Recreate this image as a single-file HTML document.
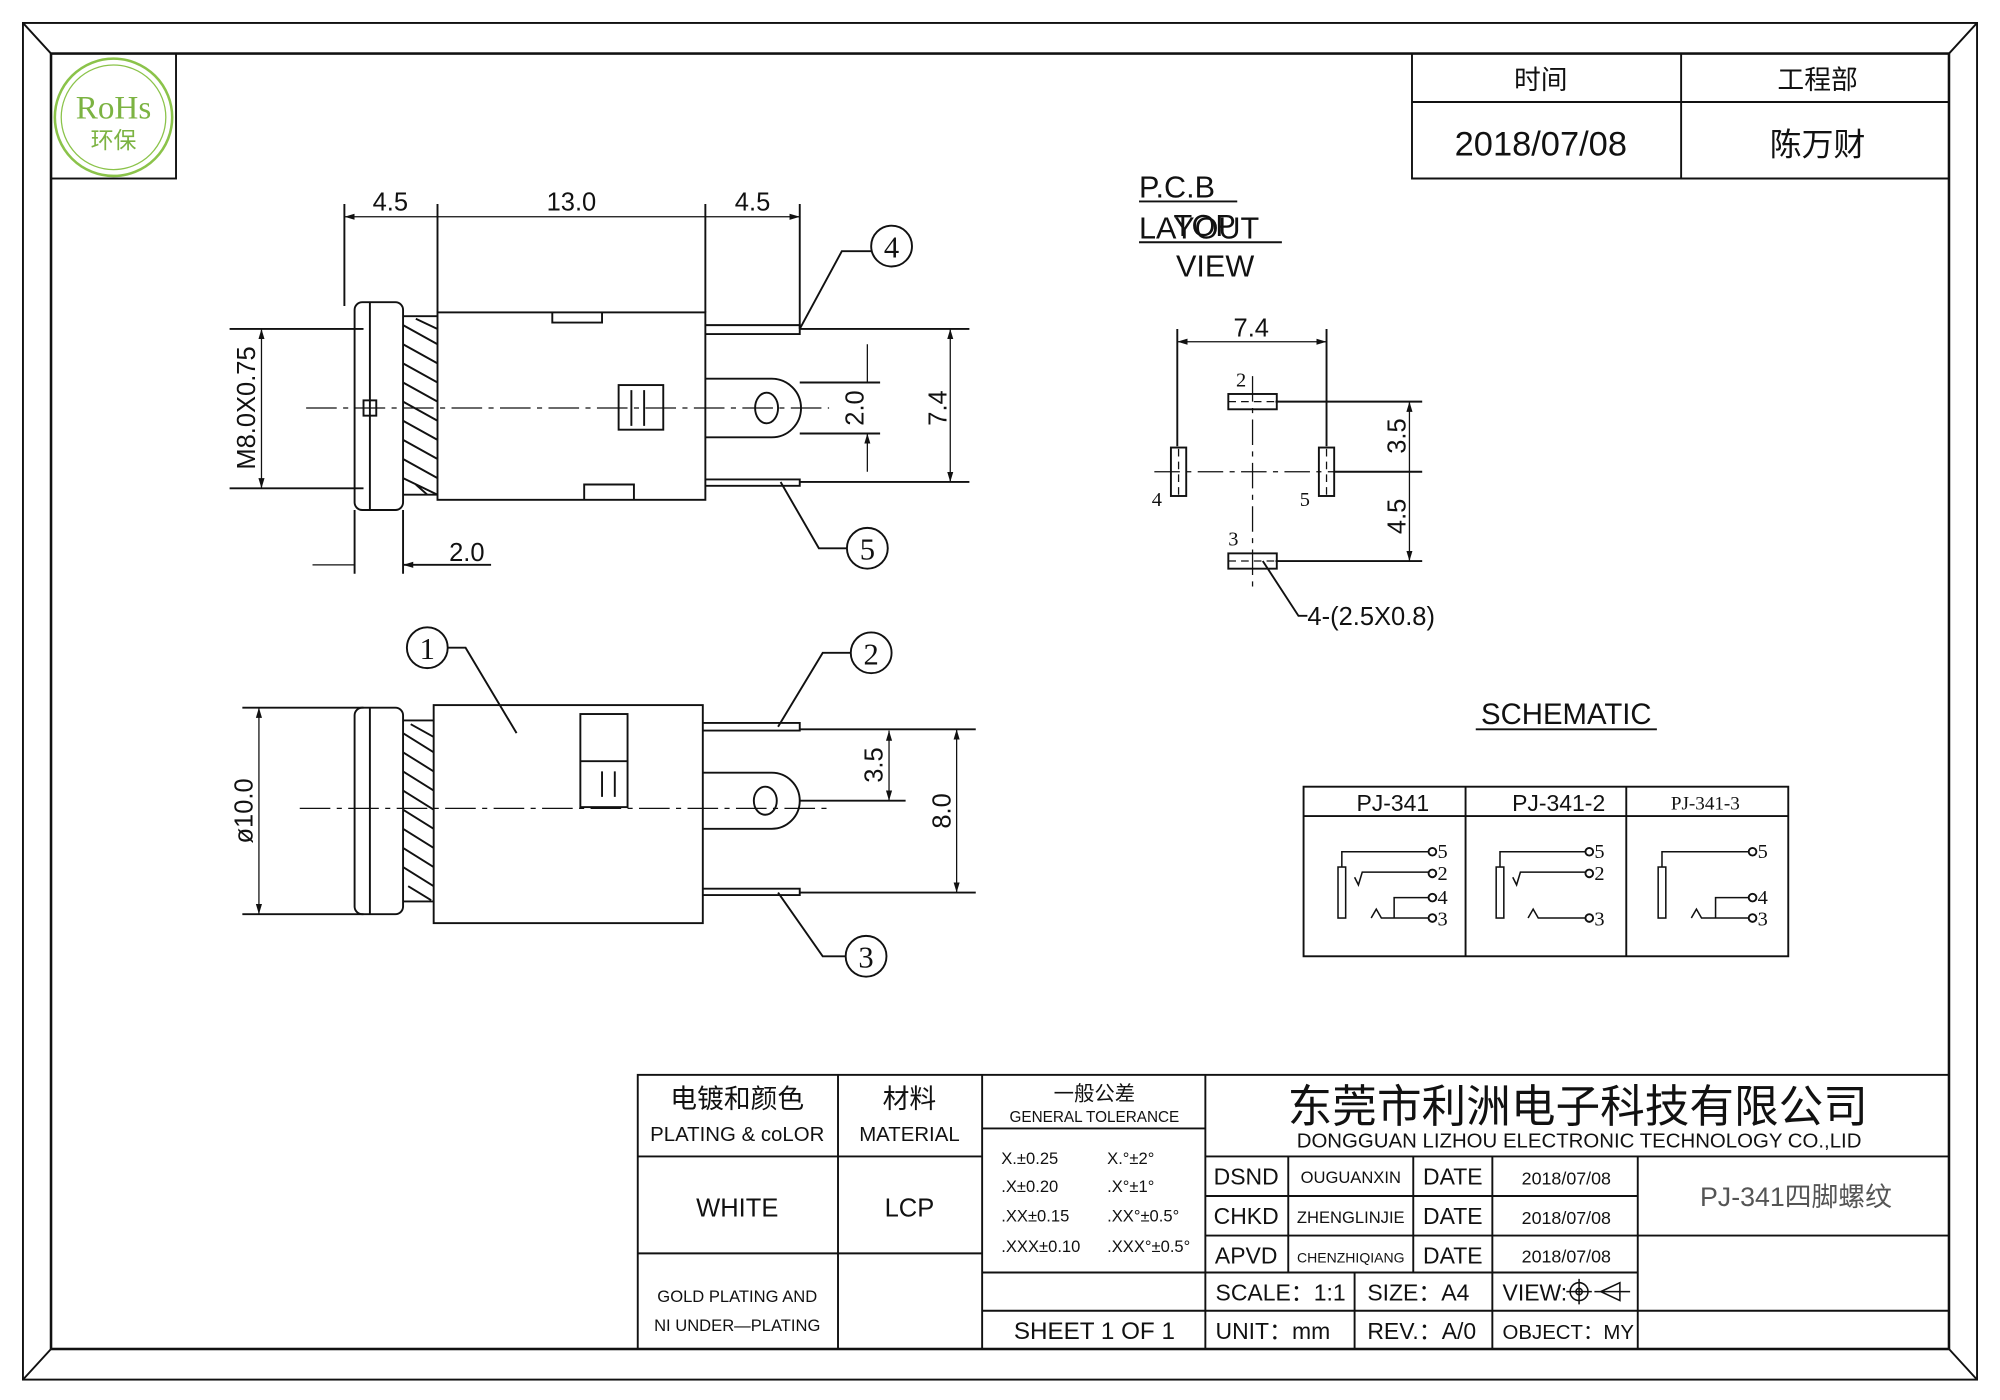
<!DOCTYPE html>
<html><head><meta charset="utf-8"><style>
html,body{margin:0;padding:0;background:#fff}
svg{display:block}
text{font-family:"Liberation Sans","Noto Sans CJK SC",sans-serif;fill:#111}
.s{font-family:"Liberation Serif","Noto Serif CJK SC",serif}
</style></head><body>
<svg width="2000" height="1400" viewBox="0 0 1568 1098" preserveAspectRatio="none" xmlns="http://www.w3.org/2000/svg">
<defs>
<marker id="a" viewBox="0 0 10 10" refX="10" refY="5" markerWidth="8" markerHeight="8" orient="auto-start-reverse"><path d="M0,2 L10,5 L0,8z" fill="#111"/></marker>
</defs>
<g fill="none" stroke="#111" stroke-width="1.5">
<!-- frame -->
<rect x="18" y="18" width="1532" height="1064"/>
<rect x="40" y="42" width="1488" height="1016" stroke-width="2"/>
<path d="M18 18L40 42M1550 18L1528 42M18 1082L40 1058M1550 1082L1528 1058"/>
<rect x="40" y="42" width="98" height="98"/>
<!-- top right table -->
<path d="M1107 42V140H1528M1107 80H1528M1318 42V140"/>
</g>
<circle cx="89" cy="92" r="46" fill="none" stroke="#8bc34a" stroke-width="2"/>
<circle cx="89" cy="92" r="41" fill="none" stroke="#8bc34a" stroke-width="1"/>
<text x="89" y="93" text-anchor="middle" class="s" font-size="26" style="fill:#7cb342">RoHs</text>
<text x="89" y="116" text-anchor="middle" font-size="18" style="fill:#7cb342">环保</text>
<text x="1208" y="70" text-anchor="middle" font-size="21">时间</text>
<text x="1425" y="70" text-anchor="middle" font-size="21">工程部</text>
<text x="1208" y="122" text-anchor="middle" font-size="27">2018/07/08</text>
<text x="1425" y="122" text-anchor="middle" font-size="25">陈万财</text>

<!-- TOP VIEW -->
<g fill="none" stroke="#111" stroke-width="1.5">
<path d="M270 160V240M343 160V245M553 160V245M627 160V258"/>
<path d="M270 170H343M343 170H553M553 170H627" marker-start="url(#a)" marker-end="url(#a)" stroke-width="1"/>
<rect x="278" y="237" width="38" height="163" rx="6"/>
<path d="M290 237V400M316 248H343M316 388H343"/>
<path d="M316 255L343 270M316 270L343 285M316 285L343 300M316 300L343 315M316 315L343 330M316 330L343 345M316 345L343 360M316 360L343 375M316 375L343 388M326 250L343 258M326 380L335 388"/>
<rect x="285" y="314" width="10" height="12"/>
<rect x="343" y="245" width="210" height="147"/>
<path d="M433 245V253H472V245M458 392V380H497V392"/>
<rect x="485" y="302" width="35" height="35"/>
<path d="M495 306V334M505 306V334"/>
<path d="M553 255H627V262H553M553 376H627V381H553"/>
<path d="M553 297H605A23 23 0 0 1 605 343H553"/>
<ellipse cx="601" cy="320" rx="9" ry="12"/>
<path d="M240 320H650" stroke-dasharray="24 5 4 5" stroke-width="1"/>
<path d="M627 258H760M627 378H760M627 300H690M627 340H690"/>
<path d="M745 258V378" marker-start="url(#a)" marker-end="url(#a)" stroke-width="1"/>
<path d="M680 270V300M680 370V340" marker-end="url(#a)" stroke-width="1"/>
<path d="M180 258H285M180 383H285"/>
<path d="M205 258V383" marker-start="url(#a)" marker-end="url(#a)" stroke-width="1"/>
<path d="M278 400V450M316 400V450"/>
<path d="M245 443H278M350 443H316" marker-end="url(#a)" stroke-width="1"/>
<path d="M316 443H385"/>
<circle cx="699" cy="193" r="16"/>
<path d="M683 197H660L627 258"/>
<circle cx="680" cy="430" r="16"/>
<path d="M664 430H642L612 378"/>
</g>
<text x="306" y="165" text-anchor="middle" font-size="20">4.5</text>
<text x="448" y="165" text-anchor="middle" font-size="20">13.0</text>
<text x="590" y="165" text-anchor="middle" font-size="20">4.5</text>
<text x="699" y="202" text-anchor="middle" class="s" font-size="24">4</text>
<text x="680" y="439" text-anchor="middle" class="s" font-size="24">5</text>
<text x="366" y="440" text-anchor="middle" font-size="20">2.0</text>
<text transform="translate(742,320) rotate(-90)" text-anchor="middle" font-size="20">7.4</text>
<text transform="translate(677,320) rotate(-90)" text-anchor="middle" font-size="20">2.0</text>
<text transform="translate(200,320) rotate(-90)" text-anchor="middle" font-size="20">M8.0X0.75</text>

<!-- FRONT VIEW -->
<g fill="none" stroke="#111" stroke-width="1.5">
<rect x="278" y="555" width="38" height="162" rx="6"/>
<path d="M290 555V717M316 565H340M316 707H340"/>
<path d="M316 575L340 590M316 590L340 605M316 605L340 620M316 620L340 635M316 635L340 650M316 650L340 665M316 665L340 680M316 680L340 695M322 568L340 578M320 695L338 706"/>
<rect x="340" y="553" width="211" height="171"/>
<rect x="455" y="560" width="37" height="73"/>
<path d="M455 597H492M472 605V625M482 605V625"/>
<path d="M551 567H627V573H551M551 697H627V702H551"/>
<path d="M551 606H605A22 22 0 0 1 605 650H551"/>
<ellipse cx="600" cy="628" rx="9" ry="11"/>
<path d="M235 634H650" stroke-dasharray="24 5 4 5" stroke-width="1"/>
<path d="M627 572H765M627 700H765M627 628H710"/>
<path d="M750 572V700" marker-start="url(#a)" marker-end="url(#a)" stroke-width="1"/>
<path d="M697 573V628" marker-start="url(#a)" marker-end="url(#a)" stroke-width="1"/>
<path d="M190 555H285M190 717H285"/>
<path d="M203 555V717" marker-start="url(#a)" marker-end="url(#a)" stroke-width="1"/>
<circle cx="335" cy="508" r="16"/>
<path d="M351 508H365L405 575"/>
<circle cx="683" cy="512" r="16"/>
<path d="M667 512H645L610 570"/>
<circle cx="679" cy="750" r="16"/>
<path d="M663 750H645L610 700"/>
</g>
<text x="335" y="517" text-anchor="middle" class="s" font-size="24">1</text>
<text x="683" y="521" text-anchor="middle" class="s" font-size="24">2</text>
<text x="679" y="759" text-anchor="middle" class="s" font-size="24">3</text>
<text transform="translate(745,636) rotate(-90)" text-anchor="middle" font-size="20">8.0</text>
<text transform="translate(692,600) rotate(-90)" text-anchor="middle" font-size="20">3.5</text>
<text transform="translate(198,636) rotate(-90)" text-anchor="middle" font-size="20">ø10.0</text>

<!-- PCB LAYOUT -->
<text x="893" y="155" font-size="24">P.C.B</text>
<text x="920" y="185" font-size="24">TOP</text>
<text x="893" y="187" font-size="24">LAYOUT</text>
<text x="922" y="217" font-size="24">VIEW</text>
<g fill="none" stroke="#111" stroke-width="1.5">
<path d="M893 158H970M893 190H1005"/>
<path d="M923 258V350M1040 258V350"/>
<path d="M923 268H1040" marker-start="url(#a)" marker-end="url(#a)" stroke-width="1"/>
<path d="M982 295V460M905 370H1060" stroke-dasharray="20 5 4 5" stroke-width="1"/>
<path d="M963 315H1000M963 440H1000M924 352V388M1040 352V388" stroke-dasharray="6 4" stroke-width="1"/>
<rect x="963" y="309" width="38" height="12"/>
<rect x="963" y="434" width="38" height="12"/>
<rect x="918" y="351" width="12" height="38"/>
<rect x="1034" y="351" width="12" height="38"/>
<path d="M1000 315H1115M1046 370H1115M1000 440H1115"/>
<path d="M1105 315V370M1105 370V440" marker-start="url(#a)" marker-end="url(#a)" stroke-width="1"/>
<path d="M990 440L1018 483H1025"/>
</g>
<text x="969" y="303" class="s" font-size="16">2</text>
<text x="963" y="428" class="s" font-size="16">3</text>
<text x="903" y="397" class="s" font-size="16">4</text>
<text x="1019" y="397" class="s" font-size="16">5</text>
<text x="981" y="264" text-anchor="middle" font-size="20">7.4</text>
<text transform="translate(1102,342) rotate(-90)" text-anchor="middle" font-size="20">3.5</text>
<text transform="translate(1102,405) rotate(-90)" text-anchor="middle" font-size="20">4.5</text>
<text x="1025" y="490" font-size="20">4-(2.5X0.8)</text>

<!-- SCHEMATIC -->
<text x="1228" y="568" text-anchor="middle" font-size="23">SCHEMATIC</text>
<g fill="none" stroke="#111" stroke-width="1.5">
<path d="M1157 572H1299"/>
<rect x="1022" y="617" width="380" height="133"/>
<path d="M1022 640H1402M1149 617V750M1275 617V750"/>
<!-- PJ-341 -->
<rect x="1049" y="680" width="6" height="40" stroke-width="1.2"/>
<path d="M1052 680V668H1120M1062 688L1065 694L1068 684H1120M1075 720L1079 713L1083 720H1120M1093 720V704H1120" stroke-width="1.2"/>
<circle cx="1123" cy="668" r="3"/><circle cx="1123" cy="685" r="3"/><circle cx="1123" cy="704" r="3"/><circle cx="1123" cy="720" r="3"/>
<!-- PJ-341-2 -->
<rect x="1173" y="680" width="6" height="40" stroke-width="1.2"/>
<path d="M1176 680V668H1243M1186 688L1189 694L1192 684H1243M1198 720L1202 713L1206 720H1243" stroke-width="1.2"/>
<circle cx="1246" cy="668" r="3"/><circle cx="1246" cy="685" r="3"/><circle cx="1246" cy="720" r="3"/>
<!-- PJ-341-3 -->
<rect x="1300" y="680" width="6" height="40" stroke-width="1.2"/>
<path d="M1303 680V668H1371M1326 720L1330 713L1334 720H1371M1345 720V704H1371" stroke-width="1.2"/>
<circle cx="1374" cy="668" r="3"/><circle cx="1374" cy="704" r="3"/><circle cx="1374" cy="720" r="3"/>
</g>
<text x="1092" y="636" text-anchor="middle" font-size="18">PJ-341</text>
<text x="1222" y="636" text-anchor="middle" font-size="18">PJ-341-2</text>
<text x="1337" y="635" text-anchor="middle" class="s" font-size="15">PJ-341-3</text>
<g class="s" font-size="16">
<text x="1127" y="673" class="s">5</text><text x="1127" y="690" class="s">2</text><text x="1127" y="709" class="s">4</text><text x="1127" y="726" class="s">3</text>
<text x="1250" y="673" class="s">5</text><text x="1250" y="690" class="s">2</text><text x="1250" y="726" class="s">3</text>
<text x="1378" y="673" class="s">5</text><text x="1378" y="709" class="s">4</text><text x="1378" y="726" class="s">3</text>
</g>

<!-- TITLE BLOCK -->
<g fill="none" stroke="#111" stroke-width="1.5">
<rect x="500" y="843" width="1028" height="215"/>
<path d="M657 843V1058M770 843V1058M945 843V1058"/>
<path d="M500 907H770M500 983H770M770 885H945M945 907H1528M945 938H1284M945 969H1528M770 998H1284M770 1028H1528"/>
<path d="M1010 907V998M1108 907V998M1170 907V1058M1284 907V1058M1062 998V1058"/>
</g>
<text x="578" y="869" text-anchor="middle" font-size="21">电镀和颜色</text>
<text x="578" y="895" text-anchor="middle" font-size="16">PLATING &amp; coLOR</text>
<text x="713" y="869" text-anchor="middle" font-size="21">材料</text>
<text x="713" y="895" text-anchor="middle" font-size="16">MATERIAL</text>
<text x="578" y="954" text-anchor="middle" font-size="20">WHITE</text>
<text x="713" y="954" text-anchor="middle" font-size="20">LCP</text>
<text x="578" y="1021" text-anchor="middle" font-size="13">GOLD PLATING AND</text>
<text x="578" y="1044" text-anchor="middle" font-size="13">NI UNDER—PLATING</text>
<text x="858" y="863" text-anchor="middle" font-size="16">一般公差</text>
<text x="858" y="880" text-anchor="middle" font-size="12">GENERAL TOLERANCE</text>
<g font-size="13">
<text x="785" y="913">X.±0.25</text><text x="868" y="913">X.°±2°</text>
<text x="785" y="935">.X±0.20</text><text x="868" y="935">.X°±1°</text>
<text x="785" y="958">.XX±0.15</text><text x="868" y="958">.XX°±0.5°</text>
<text x="785" y="982">.XXX±0.10</text><text x="868" y="982">.XXX°±0.5°</text>
</g>
<text x="858" y="1050" text-anchor="middle" font-size="19">SHEET 1 OF 1</text>
<text x="1237" y="880" text-anchor="middle" font-size="35">东莞市利洲电子科技有限公司</text>
<text x="1238" y="900" text-anchor="middle" font-size="16">DONGGUAN LIZHOU ELECTRONIC TECHNOLOGY CO.,LID</text>
<g font-size="18">
<text x="977" y="929" text-anchor="middle">DSND</text><text x="977" y="960" text-anchor="middle">CHKD</text><text x="977" y="991" text-anchor="middle">APVD</text>
<text x="1139" y="929" text-anchor="middle">DATE</text><text x="1139" y="960" text-anchor="middle">DATE</text><text x="1139" y="991" text-anchor="middle">DATE</text>
</g>
<text x="1059" y="928" text-anchor="middle" font-size="13">OUGUANXIN</text>
<text x="1059" y="959" text-anchor="middle" font-size="13">ZHENGLINJIE</text>
<text x="1059" y="990" text-anchor="middle" font-size="11">CHENZHIQIANG</text>
<g font-size="14"><text x="1228" y="929" text-anchor="middle">2018/07/08</text><text x="1228" y="960" text-anchor="middle">2018/07/08</text><text x="1228" y="990" text-anchor="middle">2018/07/08</text></g>
<text x="1408" y="946" text-anchor="middle" font-size="21" style="fill:#555">PJ-341四脚螺纹</text>
<g font-size="18">
<text x="953" y="1020">SCALE：1:1</text><text x="1072" y="1020">SIZE：A4</text><text x="1178" y="1020">VIEW:</text>
<text x="953" y="1050">UNIT：mm</text><text x="1072" y="1050">REV.：A/0</text>
</g>
<text x="1178" y="1050" font-size="16">OBJECT：MY</text>
<g fill="none" stroke="#111" stroke-width="1.2">
<circle cx="1238" cy="1013" r="7"/><circle cx="1238" cy="1013" r="2.5"/><path d="M1228 1013H1248M1238 1003V1023M1255 1013L1270 1006V1020Z M1250 1013H1278"/>
</g>
</svg>
</body></html>
